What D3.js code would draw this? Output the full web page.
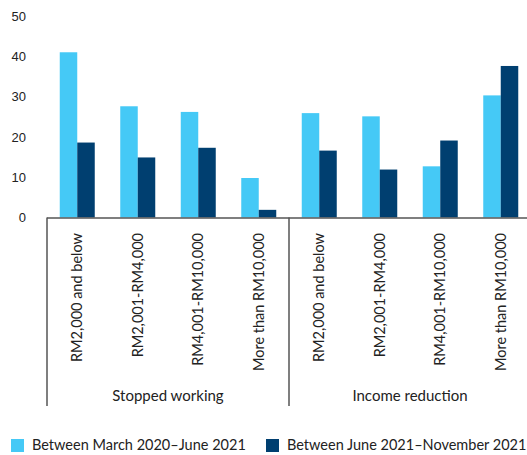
<!DOCTYPE html>
<html><head><meta charset="utf-8">
<script src="https://cdn.jsdelivr.net/npm/d3@7"></script>
<style>body{margin:0;background:#fff;} svg{display:block;}</style>
</head><body><svg id="c" width="527" height="455"></svg>
<script>
const groups = ["Stopped working", "Income reduction"];
const incomeBands = ["RM2,000 and below", "RM2,001-RM4,000", "RM4,001-RM10,000", "More than RM10,000"];
const seriesNames = ["Between March 2020\u2013June 2021", "Between June 2021\u2013November 2021"];
const series1 = [41.0, 27.6, 26.2, 9.8, 25.9, 25.1, 12.7, 30.3];
const series2 = [18.6, 14.9, 17.3, 1.9, 16.6, 11.9, 19.1, 37.6];
const yTicks = [0, 10, 20, 30, 40, 50];
const colors = ["#45C9F6", "#003F70"];

(function () {
const svg = d3.select("#c");
const mLeft = 47, mRight = 531, mTop = 16, mBottom = 217.5;
const cats = [];
groups.forEach((g, gi) => incomeBands.forEach((b, bi) => cats.push({id: gi + "_" + bi, group: g, band: b, gi})));
const x = d3.scaleBand().domain(cats.map(d => d.id)).range([mLeft, mRight]).padding(0);
const inner = d3.scaleBand().domain([0, 1]).range([0, 35]);
const y = d3.scaleLinear().domain([0, 50]).range([mBottom, mTop]);

const yAxis = d3.axisLeft(y).tickValues(yTicks).tickSize(0).tickPadding(0);
const ya = svg.append("g").attr("transform", "translate(26,0)").call(yAxis);
ya.select(".domain").remove();
ya.selectAll("text").attr("font-family", "Liberation Sans, Arial, sans-serif").attr("font-size", 13).attr("fill", "#222").attr("text-anchor", "end");

const data = cats.map((c, i) => ({c, vals: [series1[i], series2[i]]}));
const g = svg.append("g");
data.forEach(d => {
  const cx = x(d.c.id) + x.bandwidth() / 2 - 17.5;
  d.vals.forEach((v, k) => {
    g.append("rect").attr("x", cx + inner(k)).attr("width", inner.bandwidth())
      .attr("y", y(v)).attr("height", y(0) - y(v)).attr("fill", colors[k]);
  });
});

const ax = svg.append("g").attr("stroke", "#555").attr("stroke-width", 1.5);
ax.append("line").attr("x1", mLeft).attr("x2", mRight).attr("y1", mBottom + 0.5).attr("y2", mBottom + 0.5);
ax.append("line").attr("x1", mLeft).attr("x2", mLeft).attr("y1", mBottom).attr("y2", 406);
const sepX = x(cats[4].id);
ax.append("line").attr("x1", sepX).attr("x2", sepX).attr("y1", mBottom).attr("y2", 406);

cats.forEach(c => {
  const cx = x(c.id) + x.bandwidth() / 2 + 5;
  svg.append("text").attr("transform", `translate(${cx},233) rotate(-90)`)
    .attr("text-anchor", "end").attr("font-family", "Lato, sans-serif").attr("font-size", 14.5)
    .attr("fill", "#222").text(c.band);
});
groups.forEach((gname, gi) => {
  const ids = cats.filter(c => c.gi === gi).map(c => c.id);
  const gx = (x(ids[0]) + x(ids[ids.length - 1]) + x.bandwidth()) / 2;
  svg.append("text").attr("x", gx).attr("y", 401).attr("text-anchor", "middle")
    .attr("font-family", "Lato, sans-serif").attr("font-size", 15).attr("fill", "#222").text(gname);
});

const legX = [11, 266];
seriesNames.forEach((s, i) => {
  svg.append("rect").attr("x", legX[i]).attr("y", 439).attr("width", 13).attr("height", 13).attr("fill", colors[i]);
  svg.append("text").attr("x", legX[i] + 21).attr("y", 450).attr("font-family", "Lato, sans-serif")
    .attr("font-size", 14.5).attr("fill", "#222").text(s);
});
})();
</script></body></html>
